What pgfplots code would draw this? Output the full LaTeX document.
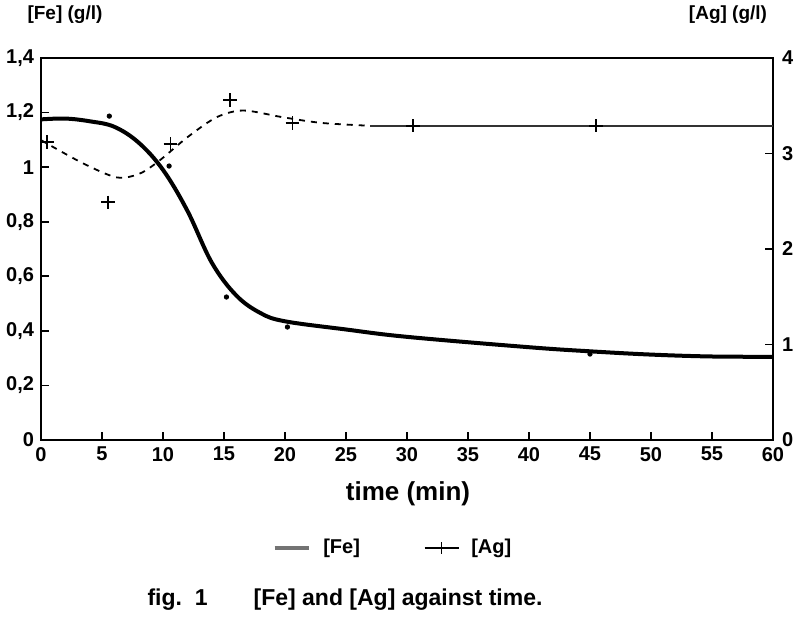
\documentclass[border=0pt]{standalone}
\usepackage{pgfplots}
\pgfplotsset{compat=1.18}
\usepackage{fontspec}
\setmainfont{Liberation Sans}

\pgfplotsset{
  every axis/.append style={
    scale only axis, width=366pt, height=191pt,
    at={(0,0)}, anchor=south west,
    xmin=0, xmax=60,
    tick align=inside, major tick length=4pt,
    axis line style={line width=0.9pt}, tick style={line width=0.8pt, black},
    tick label style={font=\bfseries\fontsize{10}{12}\selectfont},
    /pgf/number format/assume math mode=true,
    /pgf/number format/use comma,
  }
}

\begin{document}
\begin{tikzpicture}
\useasboundingbox (-20.5pt,-89.5pt) rectangle (379.5pt,220pt);

% [Fe], left axis
\begin{axis}[
  ymin=0, ymax=1.4,
  xtick={0,5,...,60}, ytick={0,0.2,...,1.4},
  xtick pos=bottom, ytick pos=left,
]
\addplot[black, line width=2pt, smooth, tension=0.6] coordinates {
  (0,1.175)(2,1.178)(4,1.168)(6,1.148)(8,1.09)(10,0.99)(12,0.84)(14,0.65)
  (16,0.53)(18,0.465)(20,0.435)(25,0.405)(30,0.378)(40,0.34)(45,0.325)
  (50,0.313)(55,0.306)(60,0.305)};
\addplot[only marks, mark=*, mark size=1.1pt, black] coordinates {
  (5.6,1.187)(10.5,1.004)(15.2,0.524)(20.2,0.414)(45,0.315)};
\end{axis}

% [Ag], right axis
\begin{axis}[
  ymin=0, ymax=4,
  xtick=\empty, ytick={0,1,2,3,4},
  ytick pos=right, yticklabel pos=right,
  yticklabel style={xshift=1pt},
  legend style={at={(0.482,-0.283)}, anchor=center, draw=none,
    legend columns=2, font=\bfseries\fontsize{10}{12}\selectfont,
    /tikz/every even column/.append style={column sep=30pt},
    /tikz/every odd column/.append style={column sep=4pt}},
]
\addlegendimage{black!55, line width=2.4pt}
\addlegendentry{[Fe]}
\addlegendimage{black, line width=0.6pt, mark=+, mark size=3pt}
\addlegendentry{[Ag]}
\addplot[black, line width=0.9pt, dashed, smooth, tension=0.5] coordinates {
  (0,3.14)(3.4,2.90)(6.2,2.75)(8.1,2.79)(9.75,2.93)(12,3.17)(14.4,3.38)
  (16.6,3.45)(19.8,3.38)(23,3.32)(27,3.29)};
\addplot[black!80, line width=0.8pt] coordinates {(27,3.29)(60,3.29)};
\addplot[only marks, mark=+, mark size=3.3pt, line width=0.8pt, black] coordinates {
  (0.5,3.12)(5.5,2.49)(10.6,3.10)(15.5,3.56)(20.6,3.32)(30.5,3.29)(45.5,3.29)};
\end{axis}

\node[font=\bfseries\fontsize{9.5}{11}\selectfont] at (12pt,212.5pt) {[Fe] (g/l)};
\node[font=\bfseries\fontsize{9.5}{11}\selectfont] at (343.5pt,212.5pt) {[Ag] (g/l)};
\node[font=\bfseries\fontsize{13}{15}\selectfont] at (183.5pt,-27pt) {time (min)};
\node[font=\bfseries\fontsize{11.5}{13}\selectfont] at (152pt,-80pt)
  {fig.\ \ 1\qquad[Fe] and [Ag] against time.};
\end{tikzpicture}
\end{document}
